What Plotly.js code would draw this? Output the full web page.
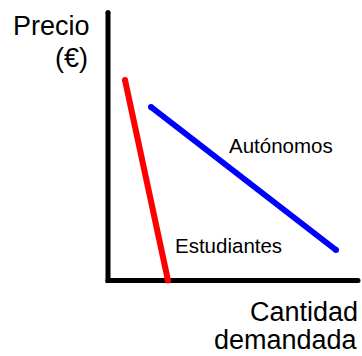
<!DOCTYPE html>
<html>
<head>
<meta charset="utf-8">
<script src="https://cdn.plot.ly/plotly-3.0.1.min.js"></script>
<style>html,body{margin:0;padding:0;background:#fff;}#chart{width:362px;height:356px;}</style>
</head>
<body>
<div id="chart"></div>
<script>
// Demand lines (quantity, price) in arbitrary units
const estudiantesQty = [1.7, 6.0];
const estudiantesPrice = [20.05, 0];
const autonomosQty = [4.3, 22.8];
const autonomosPrice = [17.35, 3.05];
// Axis extents
const axisQty = [0, 0, 25.0];
const axisPrice = [26.8, 0, 0];
const labelSeries = ['Estudiantes', 'Autónomos'];
const labelAxisY = ['Precio', '(€)'];
const labelAxisX = ['Cantidad', 'demandada'];

const traces = [
  {x: axisQty, y: axisPrice, mode: 'lines', line: {color: '#000', width: 5}, hoverinfo: 'skip'},
  {x: axisQty, y: axisPrice, mode: 'markers', marker: {color: '#000', size: 5}, hoverinfo: 'skip'},
  {x: estudiantesQty, y: estudiantesPrice, mode: 'lines+markers', line: {color: '#ff0000', width: 6}, marker: {color: '#ff0000', size: 6}},
  {x: autonomosQty, y: autonomosPrice, mode: 'lines+markers', line: {color: '#0000ff', width: 6}, marker: {color: '#0000ff', size: 6}}
];

const F = 'Liberation Sans, Arial, sans-serif';
const ann = (text, x, y, xanchor, size) => ({
  text, x, y, xref: 'x', yref: 'y', xanchor, yanchor: 'middle', showarrow: false,
  borderpad: 0, borderwidth: 0, font: {family: F, size, color: '#000'}
});

const layout = {
  width: 362, height: 356,
  margin: {l: 0, r: 0, t: 0, b: 0},
  paper_bgcolor: '#fff', plot_bgcolor: '#fff',
  showlegend: false,
  xaxis: {range: [-10.8, 25.4], visible: false, fixedrange: true},
  yaxis: {range: [-7.55, 28.05], visible: false, fixedrange: true},
  annotations: [
    ann(labelAxisY[0], -1.85, 25.45, 'right', 27),
    ann(labelAxisY[1], -2.05, 22.3, 'right', 27),
    ann(labelAxisX[0], 24.95, -3.15, 'right', 27),
    ann(labelAxisX[1], 24.95, -5.95, 'right', 27),
    ann(labelSeries[1], 12.1, 13.55, 'left', 20.5),
    ann(labelSeries[0], 6.7, 3.55, 'left', 20.5)
  ]
};

Plotly.newPlot('chart', traces, layout, {displayModeBar: false, staticPlot: true});
</script>
</body>
</html>
